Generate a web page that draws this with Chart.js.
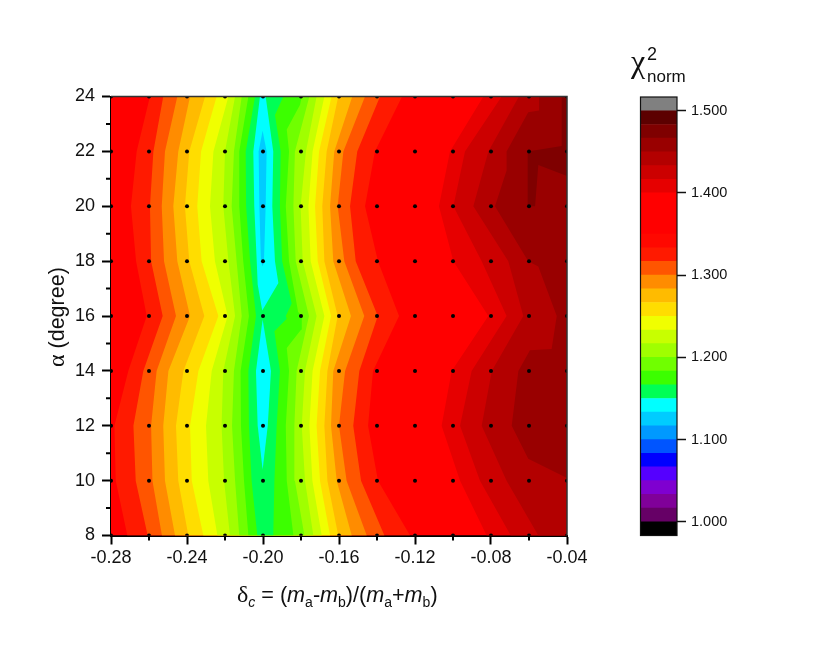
<!DOCTYPE html>
<html><head><meta charset="utf-8">
<style>html,body{margin:0;padding:0;background:#fff}canvas{position:absolute;left:0;top:0}</style>
<script src="https://cdn.jsdelivr.net/npm/chart.js@4"></script>
</head><body>
<canvas id="plot" width="830" height="654"></canvas>
<canvas id="bar" width="830" height="654"></canvas>
<script>
const FONT='"Liberation Sans", Arial, sans-serif';
const GREEK='"Liberation Serif", serif';
const deltaMin=-0.28, deltaMax=-0.04, alphaMin=8, alphaMax=24;
const deltaTicks=[-0.28,-0.24,-0.20,-0.16,-0.12,-0.08,-0.04];
const deltaMinorTicks=[-0.26,-0.22,-0.18,-0.14,-0.10,-0.06];
const alphaTicks=[8,10,12,14,16,18,20,22,24];
const alphaMinorTicks=[9,11,13,15,17,19,21,23];
const gridDelta=[-0.28,-0.26,-0.24,-0.22,-0.20,-0.18,-0.16,-0.14,-0.12,-0.10,-0.08,-0.06,-0.04];
const gridAlpha=[8,10,12,14,16,18,20,22,24];

// contour positions (delta) at alpha = 24,22,...,8
const rowAlpha=[24,22,20,18,16,14,12,10,8];
const left1=[-.2595,-.2665,-.2695,-.2668,-.2612,-.2709,-.2782,-.2775,-.2714];
const left2=[-.2525,-.2577,-.2595,-.2589,-.2528,-.2630,-.2682,-.2670,-.2607];
const left3=[-.2451,-.2516,-.2533,-.2521,-.2458,-.2560,-.2589,-.2582,-.2532];
const left4=[-.2384,-.2446,-.2472,-.2451,-.2384,-.2498,-.2525,-.2516,-.2463];
const left5=[-.2305,-.2388,-.2411,-.2388,-.2309,-.2419,-.2458,-.2446,-.2393];
const left6=[-.2244,-.2326,-.2346,-.2323,-.2235,-.2340,-.2384,-.2375,-.2314];
const left7=[-.2182,-.2261,-.2279,-.2253,-.2186,-.2270,-.2300,-.2288,-.2240];
const left8=[-.2147,-.2200,-.2209,-.2182,-.2147,-.2209,-.2218,-.2205,-.2174];
const left9=[-.2112,-.2153,-.2165,-.2139,-.2112,-.2153,-.2163,-.2147,-.2125];
const left10=[-.2077,-.2125,-.2125,-.2104,-.2074,-.2118,-.2116,-.2100,-.2077];
const left11=[-.2042,-.2091,-.2089,-.2068,-.2037,-.2077,-.2074,-.2060,-.2030];
const right1=[-.1268,-.1411,-.1463,-.1395,-.1284,-.1421,-.1447,-.1395,-.1226];
const right2=[-.1384,-.1504,-.1542,-.1512,-.1396,-.1493,-.1525,-.1484,-.1361];
const right3=[-.1463,-.1577,-.1607,-.1572,-.1467,-.1568,-.1600,-.1560,-.1454];
const right4=[-.1530,-.1625,-.1647,-.1630,-.1537,-.1630,-.1642,-.1612,-.1533];
const right5=[-.1604,-.1665,-.1688,-.1677,-.1607,-.1661,-.1677,-.1661,-.1604];
const right6=[-.1639,-.1705,-.1726,-.1712,-.1642,-.1700,-.1718,-.1700,-.1647];
const right7=[-.1677,-.1739,-.1761,-.1749,-.1677,-.1739,-.1756,-.1740,-.1691];
const right8=[-.1718,-.1774,-.1802,-.1791,-.1718,-.1779,-.1796,-.1779,-.1735];
const right9=[-.1756,-.1832,-.1840,-.1828,-.1758,-.1823,-.1835,-.1832,-.1782];
const right10Delta=[-.1796,-.1805,-.1875,-.1863,-.1880,-.1863,-.1815,-.1796,-.1800,-.1875,-.1863,-.1880,-.1875,-.1840];
const right10Alpha=[24,23.7,22.8,22,20,18,16.15,16,15.5,14.83,14,12,10,8];
const right11Delta=[-.1893,-.1937,-.1907,-.1911,-.1899,-.1849,-.1880,-.1875,-.1940,-.1911,-.1928,-.1940,-.1946];
const right11Alpha=[24,23.33,22,20,18,16.46,16,15.9,15.44,14,12,10,8];
const dark1=[-.0840,-.1016,-.1074,-.0998,-.0814,-.1007,-.1060,-.0963,-.0823];
const dark2=[-.0744,-.0937,-.0998,-.0849,-.0718,-.0902,-.0963,-.0858,-.0696];
const dark3=[-.0653,-.0814,-.0893,-.0709,-.0630,-.0796,-.0849,-.0718,-.0551];
const dark4Delta=[-.0547,-.0547,-.0604,-.0718,-.0718,-.0779,-.0604,-.0551,-.0454,-.0481,-.0595,-.0656,-.0691,-.0604,-.04];
const dark4Alpha=[24,23.49,23.43,22,21.3,20,18,17.8,16,14.8,14.75,14,12,10.8,10.1];
const dark5Delta=[-.0428,-.04,-.04,-.0551,-.0568,-.0607,-.0607,-.0428];
const dark5Alpha=[24,24,21.1,21.5,20,20,22,22.2];
const cyanUpperDelta=[-.2016,-.2051,-.2046,-.2033,-.2028,-.2004,-.1919,-.1937,-.1951,-.1946,-.1986];
const cyanUpperAlpha=[24,22,20,18,17.15,16.2,17.2,18,20,22,24];
const blueUpperDelta=[-.2002,-.2023,-.2019,-.2011,-.2002,-.1995,-.1986,-.1981];
const blueUpperAlpha=[22.75,22,20,18,17.8,18,20,22];
const cyanLowerDelta=[-.2002,-.2037,-.2028,-.2002,-.1975,-.1958];
const cyanLowerAlpha=[15.87,14,12,10.4,12,14];

const levelEdges=[0.9833,1,1.0167,1.0333,1.05,1.0667,1.0833,1.1,1.1167,1.1333,1.15,1.1667,1.1833,1.2,1.2167,1.2333,1.25,1.2667,1.2833,1.3,1.3167,1.3333,1.35,1.3667,1.3833,1.4,1.4167,1.4333,1.45,1.4667,1.4833,1.5,1.5167];
const levelColors=['#000000','#660066','#800099','#7f00d0','#5500ff','#0000ff','#0055ff','#0099ff','#00ccff','#00ffff','#00ff55','#3cff00','#70ff00','#a0ff00','#c8ff00','#f0ff00','#ffdd00','#ffbb00','#ff8c00','#ff5500','#ff1a00','#ff0800','#ff0000','#ff0000','#ff0000','#e60000','#cc0000','#b30000','#990000','#7f0000','#5c0000','#808080'];
const barTicks=[1,1.1,1.2,1.3,1.4,1.5];

function pts(xs,ys){return xs.map((x,i)=>({x,y:ys[i]}));}
function band(leftXs,rightPts){
  return pts(leftXs,rowAlpha).concat(rightPts.slice().reverse());
}
function toRight(xs,ys){
  return pts(xs,ys).concat([{x:deltaMax,y:ys[ys.length-1]},{x:deltaMax,y:ys[0]}]);
}
const layers=[
  {c:'#ff0000',p:[{x:deltaMin,y:alphaMax},{x:deltaMax,y:alphaMax},{x:deltaMax,y:alphaMin},{x:deltaMin,y:alphaMin}]},
  {c:'#e60000',p:toRight(dark1,rowAlpha)},
  {c:'#cc0000',p:toRight(dark2,rowAlpha)},
  {c:'#b30000',p:toRight(dark3,rowAlpha)},
  {c:'#990000',p:pts(dark4Delta,dark4Alpha).concat([{x:deltaMax,y:24}])},
  {c:'#7f0000',p:pts(dark5Delta,dark5Alpha)},
  {c:'#ff1a00',p:band(left1,pts(right1,rowAlpha))},
  {c:'#ff5500',p:band(left2,pts(right2,rowAlpha))},
  {c:'#ff8c00',p:band(left3,pts(right3,rowAlpha))},
  {c:'#ffbb00',p:band(left4,pts(right4,rowAlpha))},
  {c:'#ffdd00',p:band(left5,pts(right5,rowAlpha))},
  {c:'#f0ff00',p:band(left6,pts(right6,rowAlpha))},
  {c:'#c8ff00',p:band(left7,pts(right7,rowAlpha))},
  {c:'#a0ff00',p:band(left8,pts(right8,rowAlpha))},
  {c:'#70ff00',p:band(left9,pts(right9,rowAlpha))},
  {c:'#3cff00',p:band(left10,pts(right10Delta,right10Alpha))},
  {c:'#00ff55',p:band(left11,pts(right11Delta,right11Alpha))},
  {c:'#00ffff',p:pts(cyanUpperDelta,cyanUpperAlpha)},
  {c:'#00ffff',p:pts(cyanLowerDelta,cyanLowerAlpha)},
  {c:'#00ccff',p:pts(blueUpperDelta,blueUpperAlpha)}
];
const n=layers.length;
const datasets=layers.map((l,i)=>{
  const data=l.p.concat([l.p[0]]);
  return {type:'scatter',data,showLine:true,fill:'shape',backgroundColor:l.c,borderColor:l.c,borderWidth:0,pointRadius:0,pointHoverRadius:0,tension:0,order:n-i+1};
});
const dots=[];
gridAlpha.forEach(a=>gridDelta.forEach(d=>dots.push({x:d,y:a})));
datasets.push({type:'scatter',data:dots,showLine:false,pointRadius:2,pointBorderWidth:0,pointBackgroundColor:'#000',order:0});

function runs(ctx,x,baseline,list){
  list.forEach(r=>{
    ctx.font=(r.i?'italic ':'')+r.s+'px '+(r.g?GREEK:FONT);
    ctx.fillText(r.t,x,baseline+(r.d||0));
    x+=ctx.measureText(r.t).width;
  });
}
const decorate={id:'decorate',afterDraw(chart){
  const {ctx,chartArea:a,scales:{x,y}}=chart;
  ctx.save();
  ctx.strokeStyle='#000';ctx.lineWidth=2;
  ctx.beginPath();
  deltaMinorTicks.forEach(v=>{const p=x.getPixelForValue(v);ctx.moveTo(p,a.bottom);ctx.lineTo(p,a.bottom+5);});
  alphaMinorTicks.forEach(v=>{const p=y.getPixelForValue(v);ctx.moveTo(a.left,p);ctx.lineTo(a.left-5,p);});
  ctx.stroke();
  ctx.strokeStyle='#333';ctx.lineWidth=1.5;
  ctx.beginPath();ctx.moveTo(a.left,a.top);ctx.lineTo(a.right,a.top);ctx.lineTo(a.right,a.bottom);ctx.stroke();
  ctx.fillStyle='#111';ctx.textBaseline='alphabetic';ctx.textAlign='left';
  const S=21.6,s=14;
  runs(ctx,237,602,[{t:'δ',s:24,g:1},{t:'c',s:s,i:1,d:5},{t:' = (',s:S},{t:'m',s:S,i:1},{t:'a',s:s,d:5},{t:'-',s:S},{t:'m',s:S,i:1},{t:'b',s:s,d:5},{t:')/(',s:S},{t:'m',s:S,i:1},{t:'a',s:s,d:5},{t:'+',s:S},{t:'m',s:S,i:1},{t:'b',s:s,d:5},{t:')',s:S}]);
  ctx.translate(64,367);ctx.rotate(-Math.PI/2);
  runs(ctx,0,0,[{t:'α',s:24,g:1},{t:' (degree)',s:21.5}]);
  ctx.restore();
}};
new Chart(document.getElementById('plot'),{
  type:'scatter',
  data:{datasets},
  plugins:[decorate],
  options:{responsive:false,animation:false,events:[],
    layout:{padding:{left:0,top:96.5,right:263,bottom:0}},
    plugins:{legend:{display:false},tooltip:{enabled:false},title:{display:false}},
    scales:{
      x:{type:'linear',min:deltaMin,max:deltaMax,
        afterBuildTicks(s){s.ticks=deltaTicks.map(value=>({value}));},
        afterFit(s){s.height=118.5;},
        border:{color:'#000',width:2},
        grid:{drawOnChartArea:false,drawTicks:true,tickLength:9,tickColor:'#000',tickWidth:2},
        ticks:{color:'#111',font:{family:FONT,size:18},padding:3,maxRotation:0,autoSkip:false,callback:v=>v.toFixed(2)}},
      y:{type:'linear',min:alphaMin,max:alphaMax,
        afterBuildTicks(s){s.ticks=alphaTicks.map(value=>({value}));},
        afterFit(s){s.width=111;},
        border:{color:'#000',width:2},
        grid:{drawOnChartArea:false,drawTicks:true,tickLength:9,tickColor:'#000',tickWidth:2},
        ticks:{color:'#111',font:{family:FONT,size:18},padding:7,autoSkip:false,callback:v=>String(v)}}
    }
  }
});
const barFrame={id:'barFrame',afterDraw(chart){
  const {ctx,chartArea:a}=chart;
  ctx.save();
  ctx.strokeStyle='#111';ctx.lineWidth=1.2;ctx.strokeRect(a.left,a.top,a.right-a.left,a.bottom-a.top);
  ctx.fillStyle='#111';ctx.textBaseline='alphabetic';ctx.textAlign='left';
  ctx.font='32px '+GREEK;ctx.fillText('χ',631,72);
  ctx.font='18px '+FONT;ctx.fillText('2',647,60);
  ctx.font='17px '+FONT;ctx.fillText('norm',647,82);
  ctx.restore();
}};
new Chart(document.getElementById('bar'),{
  type:'bar',
  data:{labels:['χ²'],datasets:levelColors.map((c,i)=>({data:[[levelEdges[i],levelEdges[i+1]]],backgroundColor:c,borderWidth:0,grouped:false,barPercentage:1,categoryPercentage:1}))},
  plugins:[barFrame],
  options:{responsive:false,animation:false,events:[],
    layout:{padding:{left:640.5,top:97,right:93,bottom:118.5}},
    plugins:{legend:{display:false},tooltip:{enabled:false},title:{display:false}},
    scales:{
      x:{display:false},
      y:{position:'right',min:levelEdges[0],max:levelEdges[levelEdges.length-1],
        afterBuildTicks(s){s.ticks=barTicks.map(value=>({value}));},
        afterFit(s){s.width=60;},
        border:{display:false},
        grid:{drawOnChartArea:false,drawTicks:true,tickLength:9,tickColor:'#111',tickWidth:1.5},
        ticks:{color:'#111',font:{family:FONT,size:14.5},padding:5,autoSkip:false,callback:v=>v.toFixed(3)}}
    }
  }
});
</script>
</body></html>
